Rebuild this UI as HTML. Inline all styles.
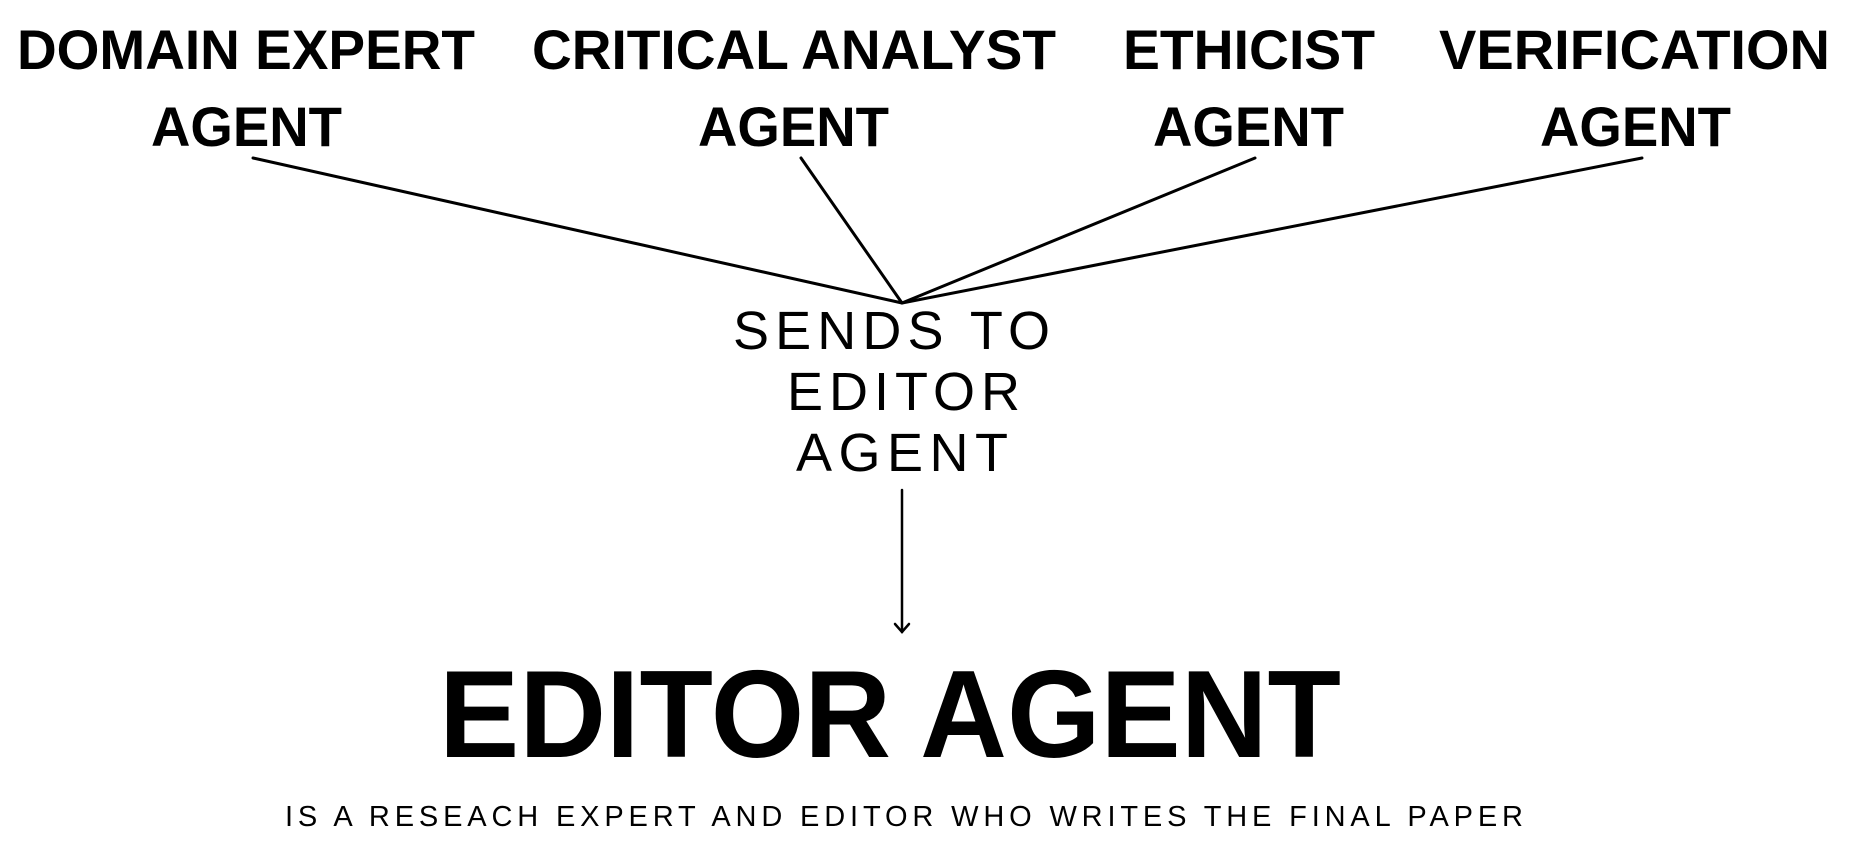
<!DOCTYPE html>
<html><head><meta charset="utf-8"><style>
html,body{margin:0;padding:0;background:#fff;width:1859px;height:847px;overflow:hidden}
svg{display:block}
.b{font-family:"Liberation Sans",sans-serif;font-weight:bold;fill:#000}
.r{font-family:"Liberation Sans",sans-serif;fill:#000}
</style></head><body>
<svg width="1859" height="847" viewBox="0 0 1859 847" xmlns="http://www.w3.org/2000/svg">
<g class="b" font-size="56">
<text x="17" y="69" textLength="458" lengthAdjust="spacingAndGlyphs">DOMAIN EXPERT</text>
<text x="151" y="146" textLength="191" lengthAdjust="spacingAndGlyphs">AGENT</text>
<text x="532" y="69" textLength="524" lengthAdjust="spacingAndGlyphs">CRITICAL ANALYST</text>
<text x="698" y="146" textLength="191" lengthAdjust="spacingAndGlyphs">AGENT</text>
<text x="1123" y="69" textLength="252" lengthAdjust="spacingAndGlyphs">ETHICIST</text>
<text x="1153" y="146" textLength="191" lengthAdjust="spacingAndGlyphs">AGENT</text>
<text x="1439" y="69" textLength="391" lengthAdjust="spacingAndGlyphs">VERIFICATION</text>
<text x="1540" y="146" textLength="191" lengthAdjust="spacingAndGlyphs">AGENT</text>
</g>
<g stroke="#000" stroke-width="3" fill="none" stroke-linecap="round">
<line x1="253" y1="158" x2="902" y2="303"/>
<line x1="801" y1="158" x2="902" y2="303"/>
<line x1="1255" y1="158" x2="902" y2="303"/>
<line x1="1642" y1="158" x2="902" y2="303"/>
<line x1="902" y1="490" x2="902" y2="632" stroke-width="2.5"/>
<polyline points="895,624 902,632 909,624" stroke-width="2.5"/>
</g>
<g class="r" font-size="54">
<text x="733" y="349" textLength="317" lengthAdjust="spacing">SENDS TO</text>
<text x="787" y="410" textLength="233" lengthAdjust="spacing">EDITOR</text>
<text x="796" y="471" textLength="212" lengthAdjust="spacing">AGENT</text>
</g>
<text class="b" x="439" y="757" font-size="124" textLength="902" lengthAdjust="spacingAndGlyphs">EDITOR AGENT</text>
<text class="r" x="285" y="826" font-size="29" textLength="1238" lengthAdjust="spacing">IS A RESEACH EXPERT AND EDITOR WHO WRITES THE FINAL PAPER</text>
</svg>
</body></html>
